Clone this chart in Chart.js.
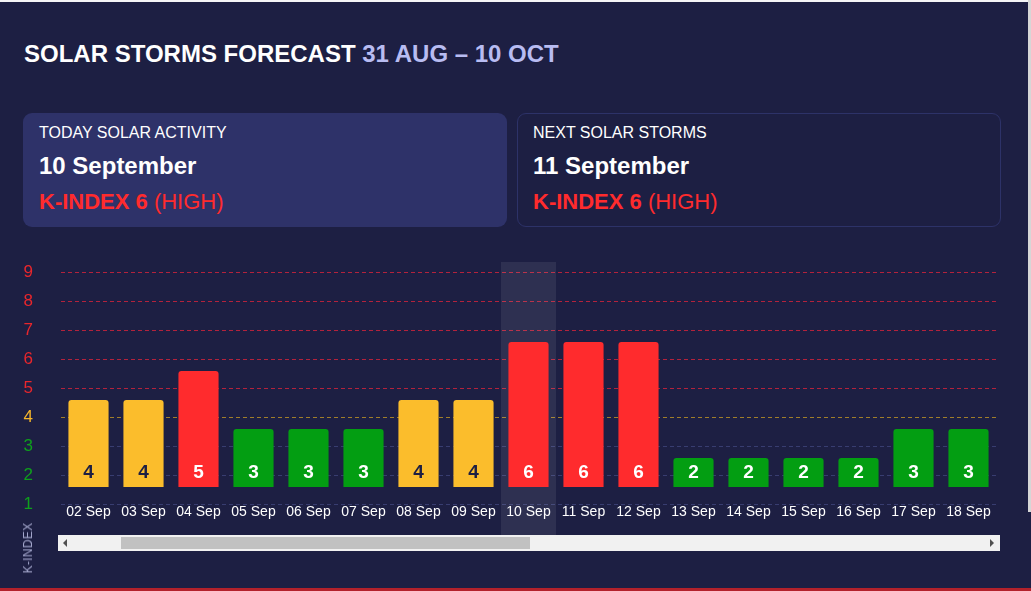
<!DOCTYPE html>
<html>
<head>
<meta charset="utf-8">
<script src="https://cdn.jsdelivr.net/npm/chart.js@4.4.0/dist/chart.umd.min.js"></script>
<style>
  html, body { margin: 0; padding: 0; }
  body {
    width: 1031px; height: 591px; overflow: hidden; position: relative;
    background: #1d1f43; font-family: "Liberation Sans", Arial, sans-serif; color: #fff;
  }
  .topline { position: absolute; left: 0; top: 0; width: 1028px; height: 2px; background: #f4f4f6; }
  .rightbar { position: absolute; left: 1028px; top: 0; width: 3px; height: 512px; background: #d6d6d6; }
  .bottomline { position: absolute; left: 0; top: 588px; width: 1031px; height: 3px; background: #b3212b; }
  h1 { position: absolute; left: 24px; top: 40px; margin: 0; font-size: 24px; font-weight: bold; }
  h1 span { color: #b8bcf2; }
  .card { position: absolute; top: 113px; width: 484px; height: 114px; border-radius: 9px; box-sizing: border-box; }
  .card.today { left: 23px; background: #2e3269; }
  .card.next { left: 517px; border: 1px solid #2d3268; background: #1d1f43; }
  .card .lbl { position: absolute; left: 16px; top: 11px; font-size: 16px; }
  .card.next .lbl, .card.next .date, .card.next .kidx { left: 15px; }
  .card.next .lbl { top: 10px; }
  .card .date { position: absolute; left: 16px; top: 39px; font-size: 24px; font-weight: bold; }
  .card .kidx { position: absolute; left: 16px; top: 76px; font-size: 22px; color: #ff2b2d; }
  .card.next .date { top: 38px; }
  .card.next .kidx { top: 75px; }
  .card .kidx b { font-weight: bold; }
  .chartbox { position: absolute; left: 0; top: 234px; width: 1005px; height: 308px; }
  .ytitle { position: absolute; left: 28px; top: 548px; transform: translate(-50%, -50%) rotate(-90deg);
    font-size: 12px; color: #a3a6cc; letter-spacing: 0.3px; white-space: nowrap; }
  .scroll { position: absolute; left: 58px; top: 535px; width: 942px; height: 16px; background: #f1f1f1; }
  .thumb { position: absolute; left: 63px; top: 2px; width: 409px; height: 12px; background: #c1c1c1; }
  .arrow-l { position: absolute; left: 5px; top: 4px; width: 0; height: 0;
    border-top: 4px solid transparent; border-bottom: 4px solid transparent; border-right: 4px solid #505050; }
  .arrow-r { position: absolute; right: 6px; top: 4px; width: 0; height: 0;
    border-top: 4px solid transparent; border-bottom: 4px solid transparent; border-left: 4px solid #505050; }
</style>
</head>
<body>
<div class="topline"></div>
<div class="rightbar"></div>
<div class="bottomline"></div>

<h1>SOLAR STORMS FORECAST <span>31 AUG – 10 OCT</span></h1>

<div class="card today">
  <div class="lbl">TODAY SOLAR ACTIVITY</div>
  <div class="date">10 September</div>
  <div class="kidx"><b>K-INDEX 6</b> (HIGH)</div>
</div>
<div class="card next">
  <div class="lbl">NEXT SOLAR STORMS</div>
  <div class="date">11 September</div>
  <div class="kidx"><b>K-INDEX 6</b> (HIGH)</div>
</div>

<div class="chartbox"><canvas id="kChart"></canvas></div>
<div class="ytitle">K-INDEX</div>
<div class="scroll"><div class="arrow-l"></div><div class="thumb"></div><div class="arrow-r"></div></div>

<script>
const days = ['02 Sep', '03 Sep', '04 Sep', '05 Sep', '06 Sep', '07 Sep', '08 Sep', '09 Sep', '10 Sep',
  '11 Sep', '12 Sep', '13 Sep', '14 Sep', '15 Sep', '16 Sep', '17 Sep', '18 Sep'];
const kIndex = [4, 4, 5, 3, 3, 3, 4, 4, 6, 6, 6, 2, 2, 2, 2, 3, 3];
const yTicks = [1, 2, 3, 4, 5, 6, 7, 8, 9];
const todayLabel = '10 Sep';

const RED = '#ff2b2d', YELLOW = '#fbbd2c', GREEN = '#039e12';

function levelColor(v) {
  if (v >= 5) return RED;
  if (v === 4) return YELLOW;
  return GREEN;
}
function tickColor(v) {
  if (v >= 5) return '#e8262c';
  if (v === 4) return '#f5b52a';
  return '#0ea01c';
}
function gridColor(v) {
  if (v >= 5) return '#b3223c';
  if (v === 4) return '#a07e2a';
  return '#383d70';
}

// shaded column behind today's bar
const todayShade = {
  id: 'todayShade',
  beforeDatasetsDraw(chart) {
    const x = chart.scales.x;
    const area = chart.chartArea;
    const i = days.indexOf(todayLabel);
    const w = x.getPixelForValue(1) - x.getPixelForValue(0);
    const cx = x.getPixelForValue(i);
    const c = chart.ctx;
    c.save();
    c.fillStyle = 'rgba(255,255,255,0.08)';
    c.fillRect(cx - w / 2, area.top - 10, w, area.bottom - area.top + 41);
    c.restore();
  }
};

// value label at the foot of each bar
const barLabels = {
  id: 'barLabels',
  afterDatasetsDraw(chart) {
    const c = chart.ctx;
    const meta = chart.getDatasetMeta(0);
    c.save();
    c.font = 'bold 19px "Liberation Sans", Arial, sans-serif';
    c.textAlign = 'center';
    c.textBaseline = 'middle';
    meta.data.forEach((bar, i) => {
      const v = kIndex[i];
      c.fillStyle = v === 4 ? '#1d1f43' : '#ffffff';
      c.fillText(String(v), bar.x, bar.base - 14);
    });
    c.restore();
  }
};

new Chart(document.getElementById('kChart'), {
  type: 'bar',
  data: {
    labels: days,
    datasets: [{
      label: 'K-index',
      data: kIndex,
      base: 1,
      yAxisID: 'yBars',
      backgroundColor: kIndex.map(levelColor),
      borderRadius: { topLeft: 3, topRight: 3 },
      borderSkipped: 'start',
      categoryPercentage: 1,
      barPercentage: 0.73
    }]
  },
  plugins: [todayShade, barLabels],
  options: {
    responsive: true,
    maintainAspectRatio: false,
    animation: false,
    layout: { padding: { top: 8, right: 9, left: 0, bottom: 0 } },
    plugins: { legend: { display: false }, tooltip: { enabled: false } },
    scales: {
      x: {
        grid: { display: false, drawTicks: false },
        border: { display: false },
        ticks: {
          color: '#ffffff',
          padding: 0,
          maxRotation: 0,
          autoSkip: false,
          font: { family: '"Liberation Sans", Arial, sans-serif', size: 14 }
        },
        afterFit(scale) { scale.height = 27; }
      },
      y: {
        min: 1,
        max: 9,
        afterBuildTicks(scale) { scale.ticks = yTicks.map(v => ({ value: v })); },
        grid: {
          drawTicks: false,
          color: ctx => gridColor(ctx.tick.value),
          lineWidth: 1
        },
        border: { display: false, dash: [4, 3] },
        ticks: {
          padding: 28,
          color: ctx => tickColor(ctx.tick.value),
          font: { family: '"Liberation Sans", Arial, sans-serif', size: 17, lineHeight: '20px' }
        },
        afterFit(scale) { scale.width = 61; }
      },
      yBars: {
        display: false,
        min: 0.414,
        max: 8.414
      }
    }
  }
});
</script>
</body>
</html>
